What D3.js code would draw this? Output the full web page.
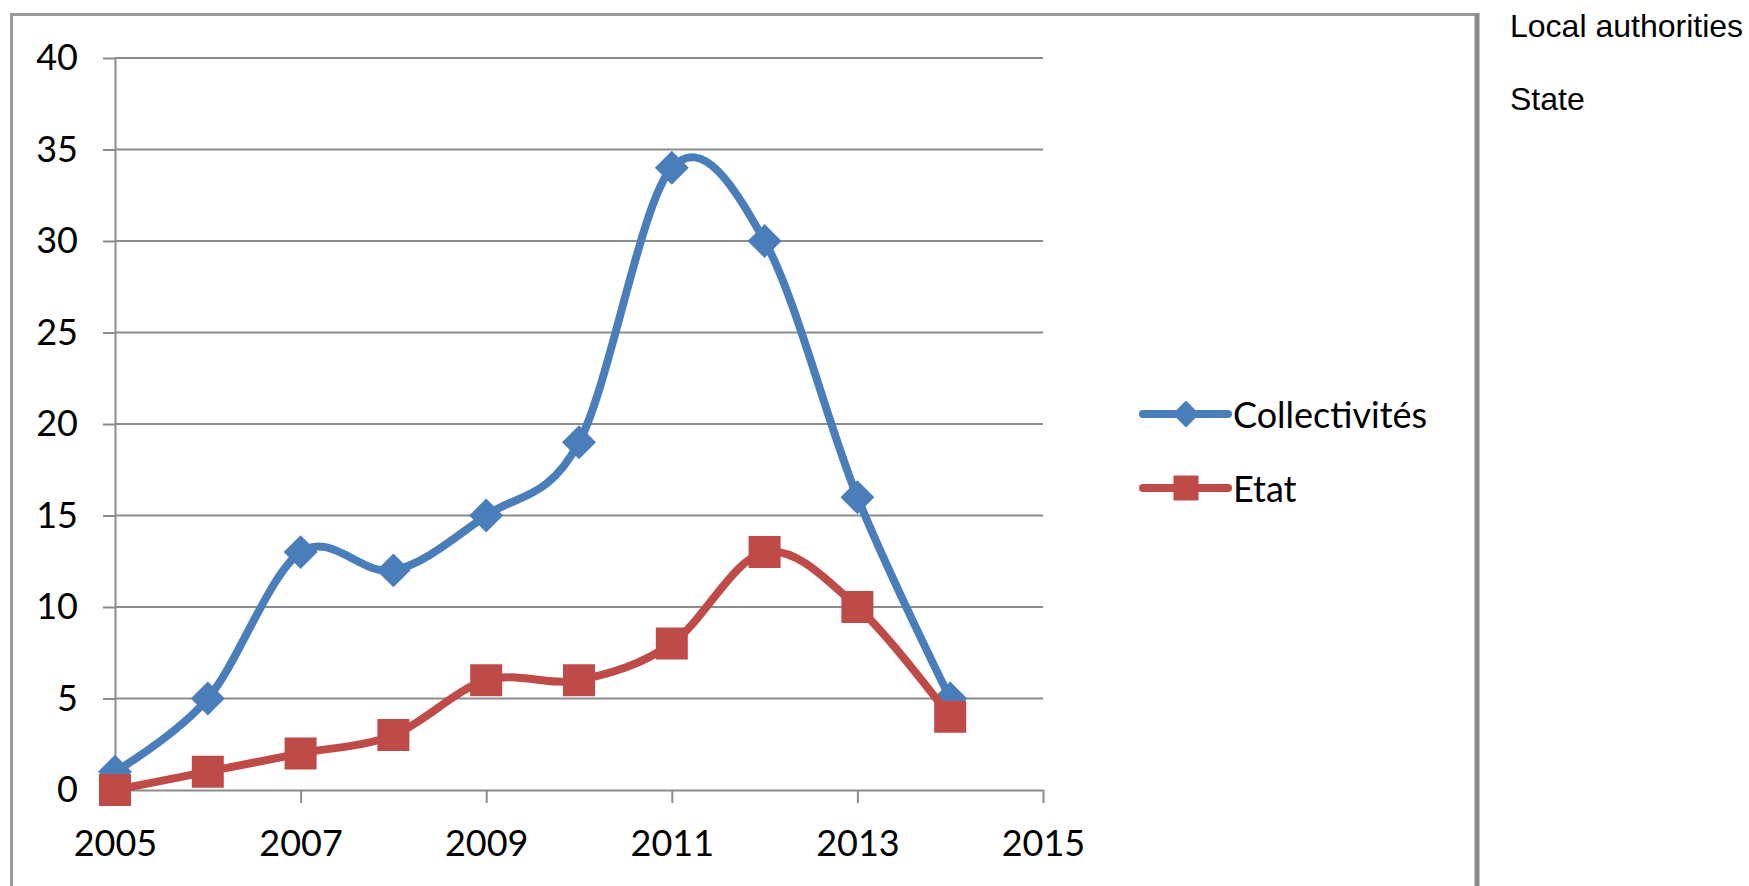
<!DOCTYPE html>
<html>
<head>
<meta charset="utf-8">
<script src="https://cdn.jsdelivr.net/npm/d3@7"></script>
<style>
  body { margin: 0; background: #fff; }
  svg { display: block; }
  .axis text { font-family: Lato, "Open Sans", sans-serif; font-size: 36px; fill: #000; }
  .axis line, .axis path { stroke: #8c8c8c; stroke-width: 2; }
</style>
</head>
<body>
<svg id="chart" width="1749" height="886"></svg>
<script>
const years = [2005, 2006, 2007, 2008, 2009, 2010, 2011, 2012, 2013, 2014];
const collectivites = [1, 5, 13, 12, 15, 19, 34, 30, 16, 5];
const etat = [0, 1, 2, 3, 6, 6, 8, 13, 10, 4];
const yTicks = [0, 5, 10, 15, 20, 25, 30, 35, 40];
const xTicks = [2005, 2007, 2009, 2011, 2013, 2015];
const legendNames = ['Collectivités', 'Etat'];
const translations = ['Local authorities', 'State'];

const svg = d3.select('#chart');

// frame around the excel chart
svg.append('line').attr('x1', 11).attr('x2', 1479).attr('y1', 14.5).attr('y2', 14.5)
  .attr('stroke', '#9a9a9a').attr('stroke-width', 3);
svg.append('line').attr('x1', 11.5).attr('x2', 11.5).attr('y1', 13).attr('y2', 886)
  .attr('stroke', '#9a9a9a').attr('stroke-width', 3);
svg.append('line').attr('x1', 1477).attr('x2', 1477).attr('y1', 13).attr('y2', 886)
  .attr('stroke', '#8a8a8a').attr('stroke-width', 5);

const x = d3.scaleLinear().domain([2005, 2015]).range([115, 1043]);
const y = d3.scaleLinear().domain([0, 40]).range([790, 58]);

// gridlines
svg.append('g').selectAll('line')
  .data(yTicks.filter(d => d > 0)).enter().append('line')
  .attr('x1', x(2005)).attr('x2', x(2015))
  .attr('y1', d => y(d)).attr('y2', d => y(d))
  .attr('stroke', '#8c8c8c').attr('stroke-width', 2);

const yAxis = d3.axisLeft(y).tickValues(yTicks).tickSizeInner(12).tickSizeOuter(0).tickPadding(25);
svg.append('g').attr('class', 'axis').attr('transform', `translate(${x(2005)},0)`).call(yAxis);

const xAxis = d3.axisBottom(x).tickValues(xTicks).tickFormat(d3.format('d'))
  .tickSizeInner(13).tickSizeOuter(0).tickPadding(27);
svg.append('g').attr('class', 'axis').attr('transform', `translate(0,${y(0)})`).call(xAxis);

const series = [
  { name: legendNames[0], values: collectivites, color: '#4a7ebb', diamond: true },
  { name: legendNames[1], values: etat, color: '#be4b48', diamond: false }
];

// excel diamonds are squares turned 45 degrees
function marker(s, side) {
  return d3.symbol().type(d3.symbolSquare).size(side * side)();
}

const line = d3.line().curve(d3.curveCardinal.tension(0))
  .x(d => x(d[0])).y(d => y(d[1]));

series.forEach(s => {
  const pts = years.map((yr, i) => [yr, s.values[i]]);
  svg.append('path').datum(pts)
    .attr('d', line).attr('fill', 'none')
    .attr('stroke', s.color).attr('stroke-width', 8).attr('stroke-linejoin', 'round');
  const side = s.diamond ? 24 : 32;
  svg.append('g').selectAll('path')
    .data(pts).enter().append('path')
    .attr('transform', d => `translate(${x(d[0])},${y(d[1])})` + (s.diamond ? ' rotate(45)' : ''))
    .attr('d', marker(s, side))
    .attr('fill', s.color);
});

// legend
const legend = svg.append('g');
series.forEach((s, i) => {
  const ly = 414 + i * 74;
  legend.append('line').attr('x1', 1143).attr('x2', 1228).attr('y1', ly).attr('y2', ly)
    .attr('stroke', s.color).attr('stroke-width', 8).attr('stroke-linecap', 'round');
  legend.append('path')
    .attr('transform', `translate(1186,${ly})` + (s.diamond ? ' rotate(45)' : ''))
    .attr('d', marker(s, s.diamond ? 19 : 25))
    .attr('fill', s.color);
  legend.append('text').attr('x', 1233).attr('y', ly + 14)
    .attr('font-family', 'Lato, "Open Sans", sans-serif').attr('font-size', 36)
    .attr('fill', '#000').text(s.name);
});

// english translations on the right
svg.append('g').selectAll('text')
  .data(translations).enter().append('text')
  .attr('x', 1510).attr('y', (d, i) => 37 + i * 73)
  .attr('font-family', '"Liberation Sans", Arial, sans-serif').attr('font-size', 32)
  .attr('fill', '#000').text(d => d);
</script>
</body>
</html>
